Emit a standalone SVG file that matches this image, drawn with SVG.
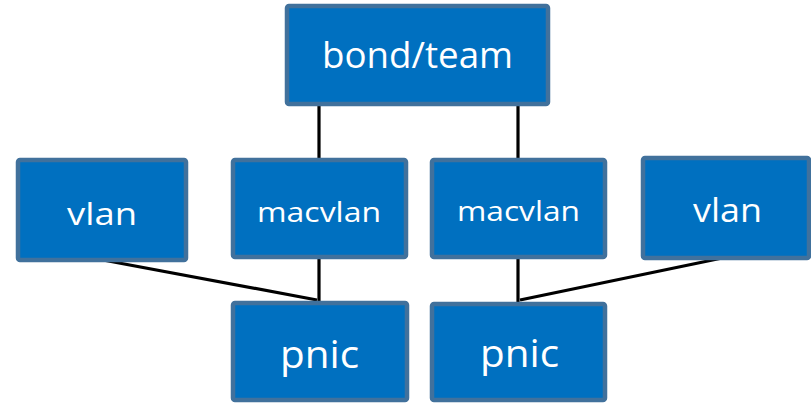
<svg xmlns="http://www.w3.org/2000/svg" width="811" height="403" viewBox="0 0 811 403">
<style>
.box{fill:#0070C0;stroke:#41719C;stroke-width:4.5}
.lbl{fill:#FFFFFF;font-family:"Open Sans","Liberation Sans",Arial,sans-serif;text-anchor:middle}
.conn{stroke:#000000;stroke-width:3.2;fill:none}
</style>
<rect width="811" height="403" fill="#FFFFFF"/>
<g id="connectors">
<line class="conn" x1="319" y1="106" x2="319" y2="160"/>
<line class="conn" x1="518" y1="104" x2="518" y2="160"/>
<line class="conn" x1="319" y1="257" x2="319" y2="303"/>
<line class="conn" x1="518" y1="257" x2="518" y2="304"/>
<line class="conn" x1="103" y1="260" x2="317" y2="300"/>
<line class="conn" x1="727" y1="257" x2="520" y2="300"/>
</g>
<g id="bond">
<rect class="box" x="287" y="6" width="261" height="98" rx="2"/>
<text class="lbl" x="417.5" y="68" font-size="37" textLength="191" lengthAdjust="spacingAndGlyphs">bond/team</text>
</g>
<g id="vlan-left">
<rect class="box" x="18" y="160" width="168" height="100" rx="2"/>
<text class="lbl" x="102" y="225" font-size="31" textLength="70" lengthAdjust="spacingAndGlyphs">vlan</text>
</g>
<g id="macvlan-left">
<rect class="box" x="233" y="160" width="173" height="97" rx="2"/>
<text class="lbl" x="319" y="221.5" font-size="28" textLength="124" lengthAdjust="spacingAndGlyphs">macvlan</text>
</g>
<g id="macvlan-right">
<rect class="box" x="432" y="160" width="173" height="97" rx="2"/>
<text class="lbl" x="518.5" y="221" font-size="28" textLength="123" lengthAdjust="spacingAndGlyphs">macvlan</text>
</g>
<g id="vlan-right">
<rect class="box" x="643" y="158" width="166" height="100" rx="2"/>
<text class="lbl" x="727.5" y="222" font-size="32" textLength="69" lengthAdjust="spacingAndGlyphs">vlan</text>
</g>
<g id="pnic-left">
<rect class="box" x="233" y="303" width="174" height="97" rx="2"/>
<text class="lbl" x="319.5" y="368" font-size="39" textLength="79" lengthAdjust="spacingAndGlyphs">pnic</text>
</g>
<g id="pnic-right">
<rect class="box" x="432" y="304" width="173" height="96" rx="2"/>
<text class="lbl" x="519.5" y="367" font-size="39" textLength="79" lengthAdjust="spacingAndGlyphs">pnic</text>
</g>
</svg>
